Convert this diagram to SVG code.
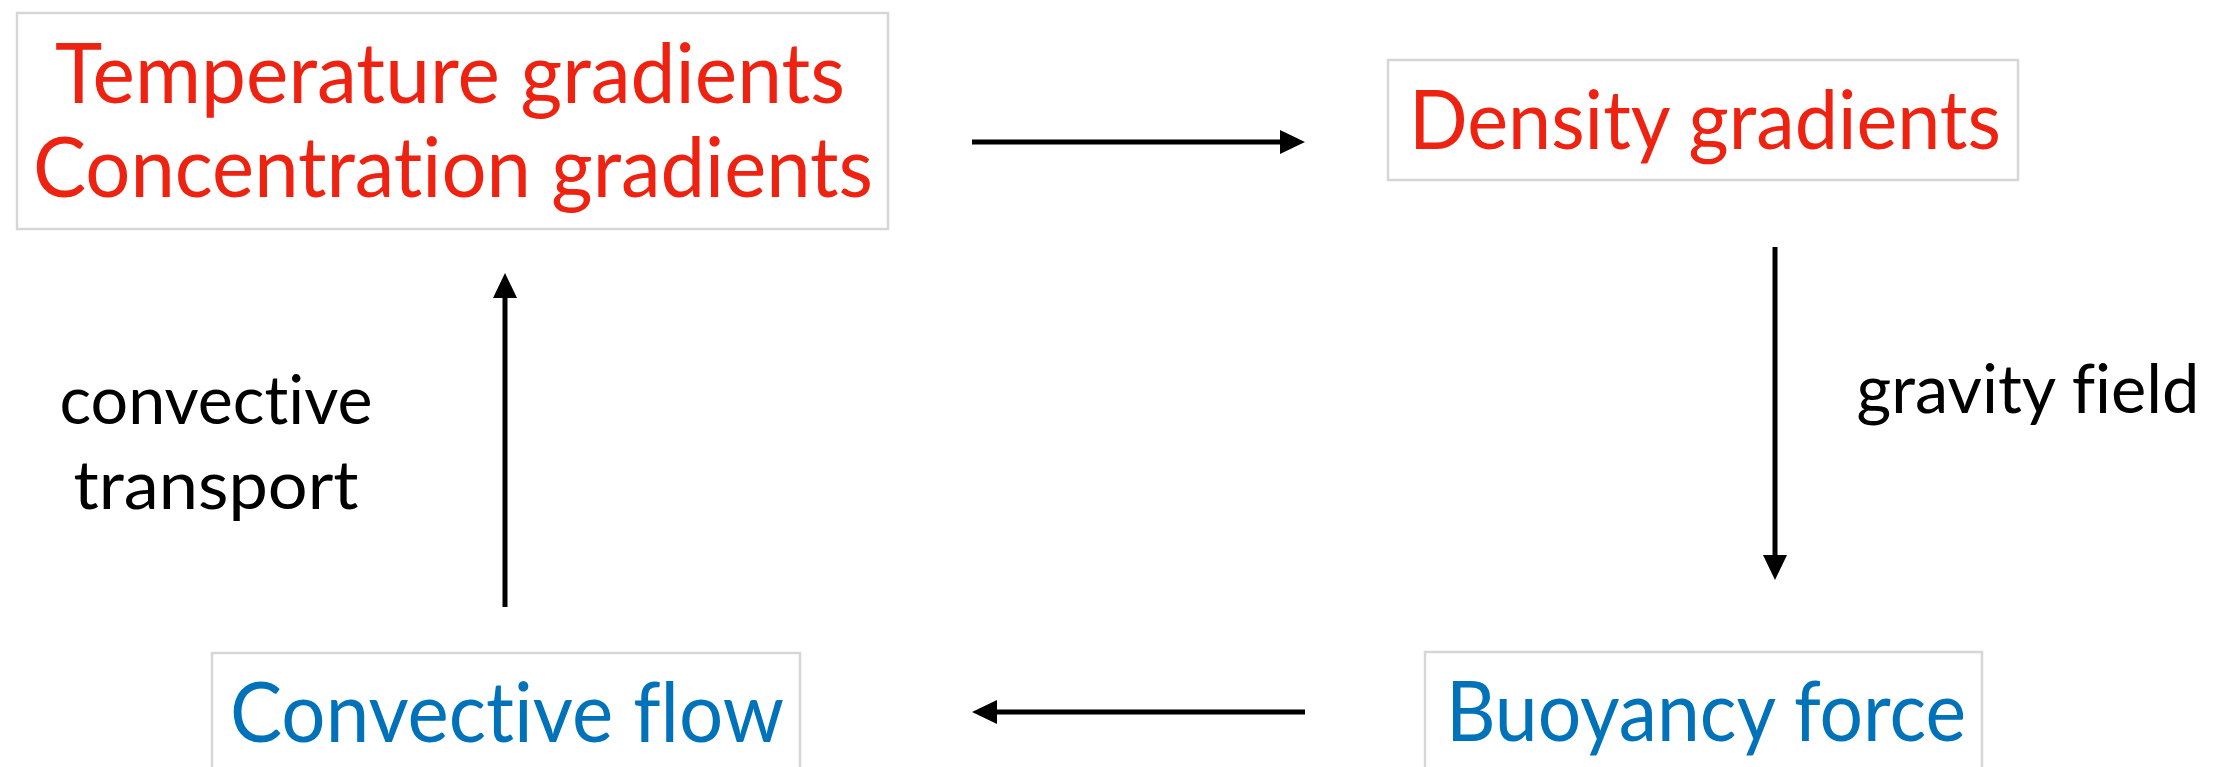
<svg xmlns="http://www.w3.org/2000/svg" width="2218" height="767" viewBox="0 0 2218 767">
<defs>
<marker id="ah" markerUnits="userSpaceOnUse" markerWidth="25" markerHeight="24" refX="0" refY="12" orient="auto" overflow="visible">
<path d="M0,0 L25,12 L0,24 z" fill="#000"/>
</marker>
<style>
text{font-variant-ligatures:none;font-feature-settings:"liga" 0,"clig" 0}
.box{fill:#fff;stroke:#d6d6d6;stroke-width:2.5}
.red{fill:#ee2211;font-family:Lato,"Open Sans",sans-serif;text-anchor:middle}
.blue{fill:#0072b9;font-family:Lato,"Open Sans",sans-serif;text-anchor:middle}
.lbl{fill:#000;font-family:Lato,"Open Sans",sans-serif;font-size:67px;text-anchor:middle}
.conn{stroke:#000;stroke-width:5;fill:none;marker-end:url(#ah)}
</style>
</defs>
<rect width="2218" height="767" fill="#fff"/>
<g id="node-temperature">
<rect class="box" x="17" y="13" width="871" height="216"/>
<text class="red" x="450" y="103" font-size="83" textLength="790" lengthAdjust="spacingAndGlyphs">Temperature gradients</text>
<text class="red" x="453" y="197" font-size="83" textLength="840" lengthAdjust="spacingAndGlyphs">Concentration gradients</text>
</g>
<g id="node-density">
<rect class="box" x="1388" y="60" width="630" height="120"/>
<text class="red" x="1705" y="149" font-size="81" textLength="592" lengthAdjust="spacingAndGlyphs">Density gradients</text>
</g>
<g id="node-buoyancy">
<rect class="box" x="1425" y="652" width="557" height="130"/>
<text class="blue" x="1706" y="741" font-size="83" textLength="520" lengthAdjust="spacingAndGlyphs">Buoyancy force</text>
</g>
<g id="node-convective">
<rect class="box" x="212" y="653" width="588" height="130"/>
<text class="blue" x="507" y="742" font-size="83" textLength="554" lengthAdjust="spacingAndGlyphs">Convective flow</text>
</g>
<g id="connectors">
<line class="conn" x1="972" y1="142" x2="1280" y2="142"/>
<line class="conn" x1="1775" y1="247" x2="1775" y2="555"/>
<line class="conn" x1="1305" y1="712" x2="997" y2="712"/>
<line class="conn" x1="505" y1="607" x2="505" y2="298"/>
</g>
<g id="labels">
<text class="lbl" x="2028" y="413" textLength="343" lengthAdjust="spacingAndGlyphs">gravity field</text>
<text class="lbl" x="216" y="424" textLength="313" lengthAdjust="spacingAndGlyphs">convective</text>
<text class="lbl" x="216" y="509" textLength="285" lengthAdjust="spacingAndGlyphs">transport</text>
</g>
</svg>
